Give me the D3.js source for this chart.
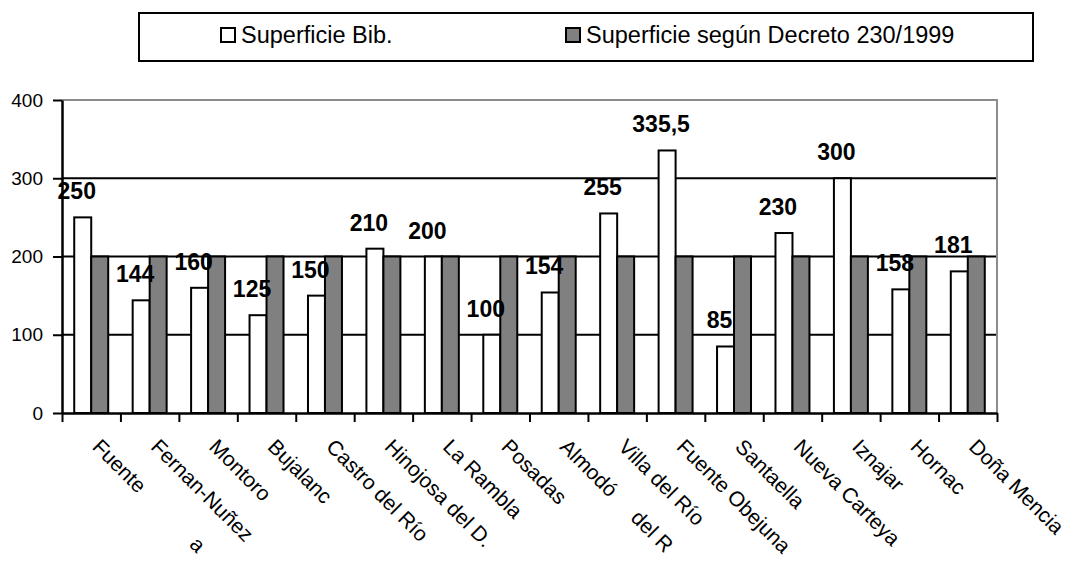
<!DOCTYPE html>
<html>
<head>
<meta charset="utf-8">
<script src="https://cdn.jsdelivr.net/npm/d3@7"></script>
<style>
    body { margin: 0; background: #fff; }
    text { font-family: "Liberation Sans", Arial, sans-serif; }
</style>
</head>
<body>
<div id="chart"></div>
<script>

// chart data
var categories = ["Fuente Palmera", "Fernan-Nuñez", "Montoro", "Bujalance", "Castro del Río",
    "Hinojosa del D.", "La Rambla", "Posadas", "Almodóvar del R.", "Villa del Río",
    "Fuente Obejuna", "Santaella", "Nueva Carteya", "Iznajar", "Hornachuelos", "Doña Mencia"];
// parts of each label that are covered in the original picture
var hiddenText = [["Palmer"], [], [], ["e"], [], [], [], [], ["var ", "."], [], [], [], [], [], ["huelos"], []];
var superficieBib = [250, 144, 160, 125, 150, 210, 200, 100, 154, 255, 335.5, 85, 230, 300, 158, 181];
var superficieDecreto = [200, 200, 200, 200, 200, 200, 200, 200, 200, 200, 200, 200, 200, 200, 200, 200];
var seriesNames = ["Superficie Bib.", "Superficie según Decreto 230/1999"];
var yTicks = [0, 100, 200, 300, 400];


class GroupedBarChart {

    constructor(container, width, height) {

        this.svg = d3.select(container)
            .append("svg")
            .attr("width", width)
            .attr("height", height)
            .style("display", "block");

        this.svg.append("rect")
            .attr("width", width)
            .attr("height", height)
            .attr("fill", "#fff");

        // plot area
        this.marginLeft = 62;
        this.marginTop = 100;
        this.chartWidth = 935;
        this.chartHeight = 313;

        this.chart = this.svg.append("g")
            .attr("transform", "translate(" + this.marginLeft + ", " + this.marginTop + ")");

        // scales
        this.xScale = d3.scaleBand()
            .range([0, this.chartWidth])
            .padding(0);
        this.xInner = d3.scaleBand()
            .paddingInner(0)
            .paddingOuter(0.72);
        this.yScale = d3.scaleLinear()
            .range([this.chartHeight, 0]);
        this.colors = ["#ffffff", "#808080"];
    }

    setData(names, series) {
        var self = this;

        self.xScale.domain(names);
        self.xInner.domain(d3.range(series.length)).range([0, self.xScale.bandwidth()]);
        self.yScale.domain([0, d3.max(yTicks)]);

        // grid lines
        self.chart.append("g")
            .selectAll("line")
            .data(yTicks.filter(function(t) { return t > 0 && t < d3.max(yTicks); }))
            .enter()
            .append("line")
                .attr("x1", 0)
                .attr("x2", self.chartWidth)
                .attr("y1", function(d) { return self.yScale(d); })
                .attr("y2", function(d) { return self.yScale(d); })
                .attr("stroke", "#000")
                .attr("stroke-width", 2);

        // top and right border of the plot area
        self.chart.append("path")
            .attr("d", "M0," + self.yScale(d3.max(yTicks)) + "H" + self.chartWidth + "V" + self.chartHeight)
            .attr("fill", "none")
            .attr("stroke", "#8c8c8c")
            .attr("stroke-width", 2);

        // bars
        var groups = self.chart.append("g")
            .selectAll("g")
            .data(names)
            .enter()
            .append("g")
                .attr("transform", function(d) { return "translate(" + self.xScale(d) + ",0)"; });

        groups.selectAll("rect")
            .data(function(d, i) {
                return series.map(function(s, j) { return {"serie": j, "value": s[i]}; });
            })
            .enter()
            .append("rect")
                .attr("x", function(d) { return self.xInner(d.serie); })
                .attr("width", self.xInner.bandwidth())
                .attr("y", function(d) { return self.yScale(d.value); })
                .attr("height", function(d) { return self.chartHeight - self.yScale(d.value); })
                .attr("fill", function(d) { return self.colors[d.serie]; })
                .attr("stroke", "#000")
                .attr("stroke-width", 2);

        // value labels, only first serie
        self.chart.append("g")
            .selectAll("text")
            .data(series[0])
            .enter()
            .append("text")
                .attr("x", function(d, i) {
                    return self.xScale(names[i]) + self.xInner(0) + self.xInner.bandwidth() / 2 - 6;
                })
                .attr("y", function(d) { return self.yScale(d) - 18; })
                .attr("text-anchor", "middle")
                .attr("font-size", "23px")
                .attr("font-weight", "bold")
                .attr("fill", "#000")
                .text(function(d) { return String(d).replace(".", ","); });

        // y axis
        var yAxis = d3.axisLeft(self.yScale)
            .tickValues(yTicks)
            .tickSize(9)
            .tickPadding(10)
            .tickSizeOuter(0);
        var yG = self.chart.append("g").call(yAxis);
        yG.select(".domain").attr("stroke-width", 2.5);
        yG.selectAll(".tick line").attr("stroke-width", 2);
        yG.selectAll(".tick text")
            .attr("font-size", "19px")
            .attr("font-family", "Liberation Sans, Arial, sans-serif")
            .attr("fill", "#000");

        // x axis, ticks between categories
        var xBounds = d3.scaleLinear().domain([0, names.length]).range([0, self.chartWidth]);
        var xAxis = d3.axisBottom(xBounds)
            .tickValues(d3.range(names.length + 1))
            .tickFormat("")
            .tickSize(9)
            .tickSizeOuter(0);
        var xG = self.chart.append("g")
            .attr("transform", "translate(0," + self.chartHeight + ")")
            .call(xAxis);
        xG.select(".domain").attr("stroke-width", 2.5);
        xG.selectAll(".tick line").attr("stroke-width", 2);

        // category labels, rotated
        var labels = self.chart.append("g")
            .selectAll("text")
            .data(names)
            .enter()
            .append("text")
                .attr("transform", function(d) {
                    return "translate(" + (self.xScale(d) + self.xScale.bandwidth() / 2) + "," + (self.chartHeight + 35) + ") rotate(45)";
                })
                .attr("font-size", "21px")
                .attr("fill", "#000");

        // keep only the visible pieces of each label, covered pieces become a gap
        labels.each(function(d, i) {
            var el = d3.select(this);
            var rest = d;
            var gap = 0;
            hiddenText[i].forEach(function(hide) {
                var pos = rest.indexOf(hide);
                if (pos < 0) return;
                el.append("tspan").attr("dx", gap).text(rest.slice(0, pos));
                var tmp = el.append("tspan").text(hide);
                gap = tmp.node().getComputedTextLength();
                tmp.remove();
                rest = rest.slice(pos + hide.length);
            });
            if (rest) el.append("tspan").attr("dx", gap).text(rest);
        });
    }

    setLegend(labels) {
        var self = this;

        var legend = self.svg.append("g");
        legend.append("rect")
            .attr("x", 139)
            .attr("y", 13)
            .attr("width", 894)
            .attr("height", 48)
            .attr("fill", "#fff")
            .attr("stroke", "#000")
            .attr("stroke-width", 2);

        var itemX = [221, 566];
        var items = legend.selectAll("g.item")
            .data(labels)
            .enter()
            .append("g")
            .attr("class", "item")
            .attr("transform", function(d, i) { return "translate(" + itemX[i] + ",28)"; });

        items.append("rect")
            .attr("width", 14)
            .attr("height", 14)
            .attr("fill", function(d, i) { return self.colors[i]; })
            .attr("stroke", "#000")
            .attr("stroke-width", 2);

        items.append("text")
            .attr("x", 20)
            .attr("y", 15)
            .attr("font-size", "23.5px")
            .attr("fill", "#000")
            .text(function(d) { return d; });
    }
}

var chart = new GroupedBarChart("#chart", 1067, 561);
chart.setData(categories, [superficieBib, superficieDecreto]);
chart.setLegend(seriesNames);

</script>
</body>
</html>
